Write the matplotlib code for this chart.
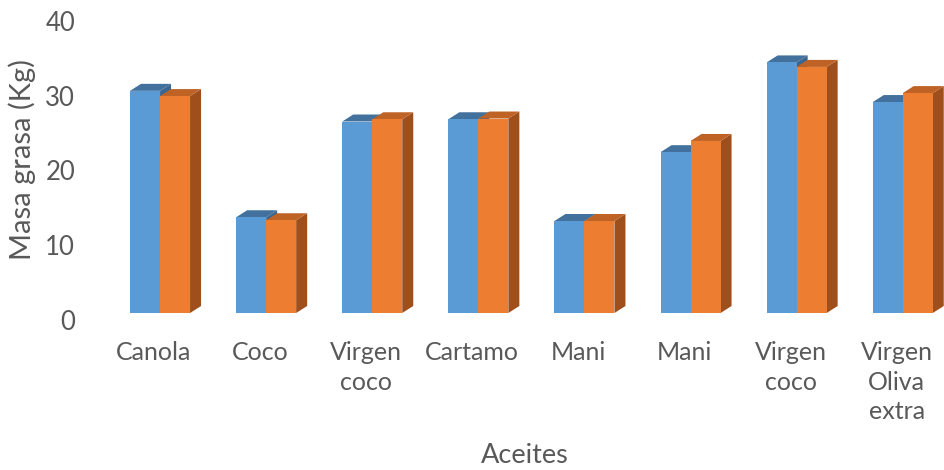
import numpy as np
import matplotlib
matplotlib.use("Agg")
import matplotlib.pyplot as plt
from matplotlib.patches import Polygon
from matplotlib.transforms import ScaledTranslation

plt.rcParams['font.family'] = ['Lato', 'DejaVu Sans']

categories = ["Canola", "Coco", "Virgen\ncoco", "Cartamo", "Mani", "Mani",
              "Virgen\ncoco", "Virgen\nOliva\nextra"]
serie_a = [29.7, 12.8, 25.6, 25.9, 12.3, 21.5, 33.5, 28.2]
serie_b = [29.0, 12.4, 25.9, 26.0, 12.3, 23.0, 32.9, 29.4]

colors_a = ("#5B9BD5", "#41719C", "#3A6690")   # front, top, side
colors_b = ("#ED7D31", "#BE6226", "#9E4F1C")

W, H = 945, 470
fig = plt.figure(figsize=(W / 100, H / 100), dpi=100)

# axes placed in pixel units: y=0 at px 313, spacing 106.1 px per category
px0, py0 = 107, 313
ppu_y = 7.48
ppu_x = 106.1
ax = fig.add_axes([px0 / W, (H - py0) / H, (W - px0) / W, 40 * ppu_y / H])
ax.set_xlim(-0.5, -0.5 + (W - px0) / ppu_x)
ax.set_ylim(0, 40)

bw = 30 / ppu_x
dx = 11 / ppu_x
dy = 7 / ppu_y


def bar3d(x0, h, cols):
    front, top, side = cols
    x1 = x0 + bw
    ax.add_patch(Polygon([(x1, 0), (x1 + dx, dy), (x1 + dx, h + dy), (x1, h)],
                         closed=True, facecolor=side, edgecolor='none', clip_on=False))
    ax.add_patch(Polygon([(x0, h), (x0 + dx, h + dy), (x1 + dx, h + dy), (x1, h)],
                         closed=True, facecolor=top, edgecolor='none', clip_on=False))
    ax.add_patch(Polygon([(x0, 0), (x0, h), (x1, h), (x1, 0)],
                         closed=True, facecolor=front, edgecolor='none', clip_on=False))


for i in range(len(categories)):
    bar3d(i - bw, serie_a[i], colors_a)
    bar3d(i, serie_b[i], colors_b)

for s in ax.spines.values():
    s.set_visible(False)

ax.set_yticks([0, 10, 20, 30, 40])
ax.set_xticks(range(len(categories)))
ax.set_xticklabels(categories, linespacing=1.36)
ax.tick_params(axis='both', length=0, labelcolor='#595959')
ax.tick_params(axis='y', pad=23, labelsize=18.5)
ax.tick_params(axis='x', pad=20, labelsize=18)

for lab in ax.get_yticklabels():
    lab.set_transform(lab.get_transform() + ScaledTranslation(0, -7 / 100, fig.dpi_scale_trans))
for lab in ax.get_xticklabels():
    lab.set_transform(lab.get_transform() + ScaledTranslation(-6 / 100, 0, fig.dpi_scale_trans))

fig.text(22 / W, 1 - 160 / H, "Masa grasa (Kg)", rotation=90, ha='center', va='center',
         fontsize=21, color='#595959')
fig.text(525 / W, 2 / H, "Aceites", ha='center', va='bottom',
         fontsize=19.5, color='#595959')

fig.savefig("out.png", dpi=100)
